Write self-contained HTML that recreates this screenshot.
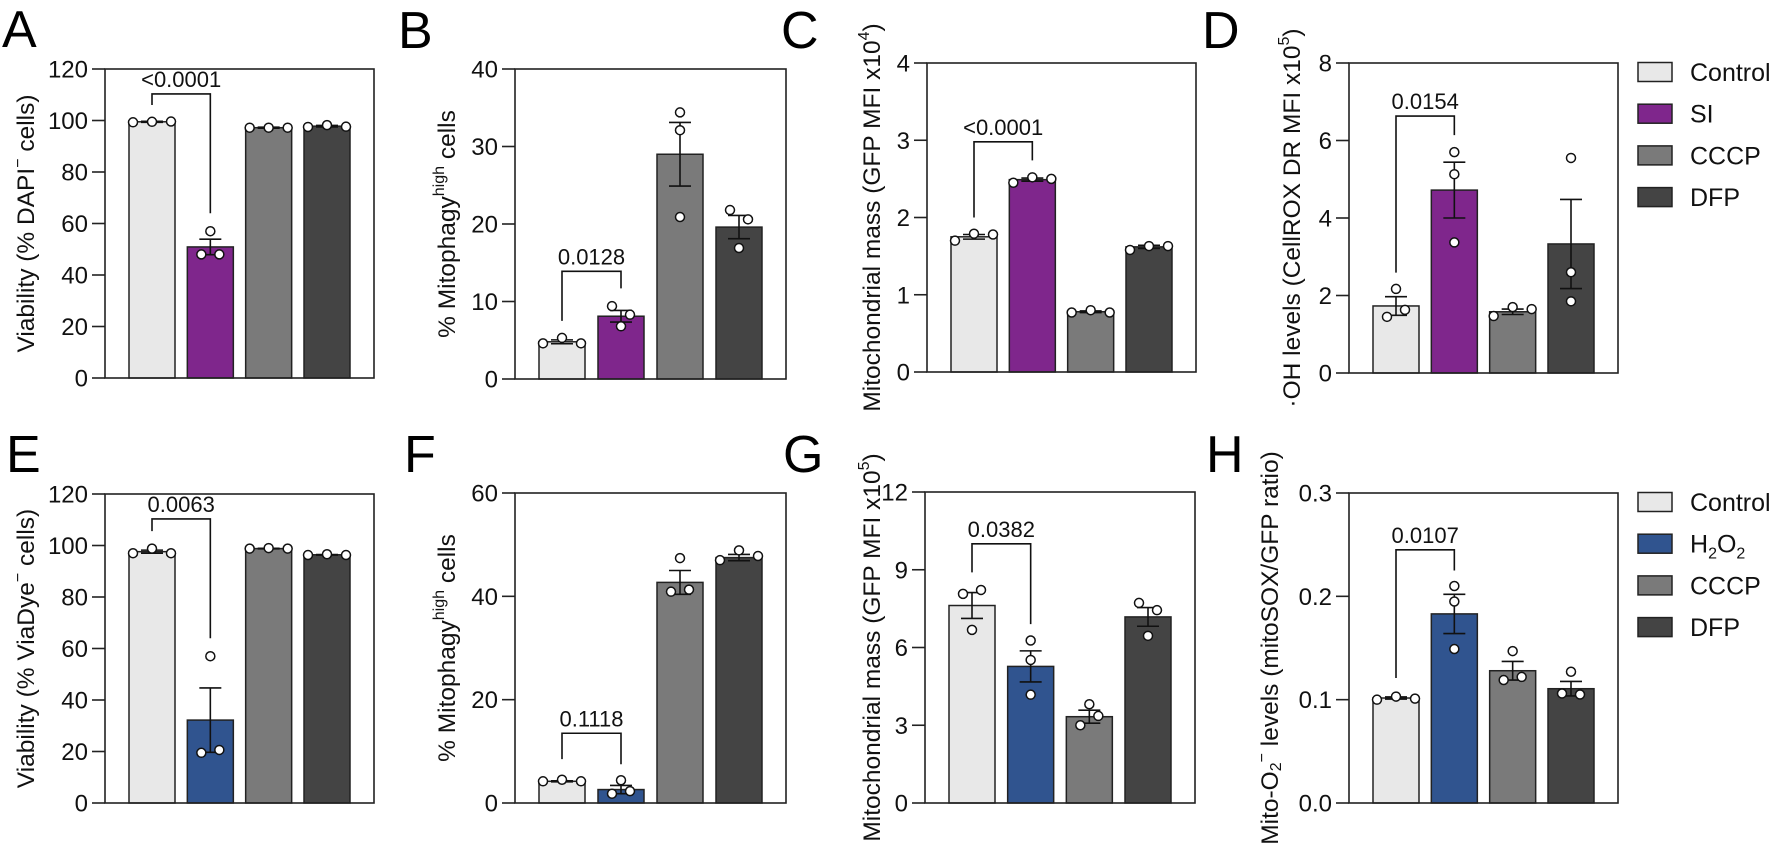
<!DOCTYPE html>
<html><head><meta charset="utf-8"><style>
html,body{margin:0;padding:0;background:#fff;}
svg{display:block;font-family:"Liberation Sans",Arial,sans-serif;}
</style></head><body>
<svg id="fig" width="1772" height="849" viewBox="0 0 1772 849" xmlns="http://www.w3.org/2000/svg"></svg>
<script>
const groups = ["Control","Treatment","CCCP","DFP"];
// Panel A
const aMeans = [99.5, 50.9, 97.2, 97.8];
const aSems = [0.2, 3.0, 0.2, 0.3];
const aPoints = [[99.3,99.5,99.6],[48,48,57],[97.2,97.2,97.2],[97.5,98.2,97.6]];
const aTicks = [0,20,40,60,80,100,120];
const aSig = [110.3, 106, 64];
// Panel B
const bMeans = [4.8, 8.1, 29.0, 19.6];
const bSems = [0.25, 0.75, 4.1, 1.5];
const bPoints = [[4.6,5.3,4.6],[9.4,6.8,8.3],[34.4,32.1,20.9],[21.8,16.9,20.6]];
const bTicks = [0,10,20,30,40];
const bSig = [13.9, 7.5, 11.7];
// Panel C
const cMeans = [1.75, 2.49, 0.78, 1.62];
const cSems = [0.03, 0.02, 0.01, 0.02];
const cPoints = [[1.70,1.79,1.78],[2.45,2.52,2.50],[0.77,0.80,0.77],[1.58,1.63,1.63]];
const cTicks = [0,1,2,3,4];
const cSig = [2.98, 2.0, 2.74];
// Panel D
const dMeans = [1.73, 4.72, 1.58, 3.33];
const dSems = [0.24, 0.72, 0.07, 1.15];
const dPoints = [[1.45,2.17,1.63],[3.37,5.7,5.13],[1.47,1.70,1.65],[1.85,5.55,2.6]];
const dTicks = [0,2,4,6,8];
const dSig = [6.63, 2.59, 6.14];
// Panel E
const eMeans = [97.6, 32.2, 98.8, 96.4];
const eSems = [0.6, 12.5, 0.1, 0.1];
const ePoints = [[97.0,98.8,97.0],[19.5,57,20.6],[98.8,99.0,98.8],[96.3,96.6,96.3]];
const eTicks = [0,20,40,60,80,100,120];
const eSig = [110.3, 105.6, 64];
// Panel F
const fMeans = [4.2, 2.6, 42.7, 47.5];
const fSems = [0.1, 0.8, 2.3, 0.6];
const fPoints = [[4.2,4.5,4.2],[1.8,4.4,2.3],[40.9,47.4,41.3],[47.0,48.9,47.8]];
const fTicks = [0,20,40,60];
const fSig = [13.5, 8.5, 7.5];
// Panel G
const gMeans = [7.62, 5.27, 3.33, 7.18];
const gSems = [0.5, 0.6, 0.25, 0.36];
const gPoints = [[8.07,6.68,8.22],[5.52,4.18,6.27],[3.0,3.81,3.36],[7.72,6.45,7.44]];
const gTicks = [0,3,6,9,12];
const gSig = [10.0, 8.9, 6.9];
// Panel H
const hMeans = [0.1016, 0.183, 0.128, 0.1106];
const hSems = [0.001, 0.019, 0.009, 0.007];
const hPoints = [[0.100,0.103,0.101],[0.210,0.195,0.149],[0.119,0.147,0.122],[0.106,0.127,0.105]];
const hTicks = ["0.0","0.1","0.2","0.3"];
const hSig = [0.245, 0.121, 0.225];

const NS = "http://www.w3.org/2000/svg";
const svg = document.getElementById("fig");
function mk(tag, attrs, parent){
  const e = document.createElementNS(NS, tag);
  for (const k in attrs) e.setAttribute(k, attrs[k]);
  (parent||svg).appendChild(e);
  return e;
}
const topColors = ["#e8e8e8","#7f268c","#7a7a7a","#444444"];
const botColors = ["#e8e8e8","#30548f","#7a7a7a","#444444"];

const panels = [
 {id:"a", L:"A", lx:2, ly:47, x0:105, x1:374, y0:69, y1:378, tx:26, means:aMeans, sems:aSems, pts:aPoints, ticks:aTicks, sig:aSig, sigLabel:"<0.0001", colors:topColors,
  title:[["Viability (% DAPI",0],["−",1],[" cells)",0]]},
 {id:"b", L:"B", lx:398, ly:48, x0:515, x1:786, y0:69, y1:379, tx:447, means:bMeans, sems:bSems, pts:bPoints, ticks:bTicks, sig:bSig, sigLabel:"0.0128", colors:topColors,
  title:[["% Mitophagy",0],["high",1],[" cells",0]]},
 {id:"c", L:"C", lx:781, ly:48, x0:927, x1:1196, y0:63, y1:372, tx:872, means:cMeans, sems:cSems, pts:cPoints, ticks:cTicks, sig:cSig, sigLabel:"<0.0001", colors:topColors,
  title:[["Mitochondrial mass (GFP MFI x10",0],["4",1],[")",0]]},
 {id:"d", L:"D", lx:1202, ly:48, x0:1349, x1:1618, y0:63, y1:373, tx:1292, means:dMeans, sems:dSems, pts:dPoints, ticks:dTicks, sig:dSig, sigLabel:"0.0154", colors:topColors,
  title:[["·OH levels (CellROX DR MFI x10",0],["5",1],[")",0]]},
 {id:"e", L:"E", lx:6, ly:472, x0:105, x1:374, y0:494, y1:803, tx:26, means:eMeans, sems:eSems, pts:ePoints, ticks:eTicks, sig:eSig, sigLabel:"0.0063", colors:botColors,
  title:[["Viability (% ViaDye",0],["−",1],[" cells)",0]]},
 {id:"f", L:"F", lx:404, ly:472, x0:515, x1:786, y0:493, y1:803, tx:447, means:fMeans, sems:fSems, pts:fPoints, ticks:fTicks, sig:fSig, sigLabel:"0.1118", colors:botColors,
  title:[["% Mitophagy",0],["high",1],[" cells",0]]},
 {id:"g", L:"G", lx:783, ly:472, x0:925, x1:1195, y0:492, y1:803, tx:872, means:gMeans, sems:gSems, pts:gPoints, ticks:gTicks, sig:gSig, sigLabel:"0.0382", colors:botColors,
  title:[["Mitochondrial mass (GFP MFI x10",0],["5",1],[")",0]]},
 {id:"h", L:"H", lx:1206, ly:472, x0:1349, x1:1618, y0:493, y1:803, tx:1270, means:hMeans, sems:hSems, pts:hPoints, ticks:hTicks, sig:hSig, sigLabel:"0.0107", colors:botColors,
  title:[["Mito-O",0],["2",2],["−",1],[" levels (mitoSOX/GFP ratio)",0]]}
];

// cluster points that overlap vertically and spread them horizontally
function spread(ys){
  const idx = ys.map((y,i)=>i).sort((a,b)=>ys[a]-ys[b]);
  const clusters = [];
  idx.forEach(i=>{
    const last = clusters[clusters.length-1];
    if(last && Math.abs(ys[i]-ys[last[last.length-1]])<10) last.push(i);
    else clusters.push([i]);
  });
  const off = new Array(ys.length).fill(0);
  clusters.forEach(c=>{
    const n = c.length, sp = n===2?18:19;
    const order = c.slice().sort((a,b)=>a-b);
    order.forEach((i,k)=>{ off[i] = (k-(n-1)/2)*sp; });
  });
  return off;
}

panels.forEach(p=>{
  const g = mk("g",{});
  
  
  const tv = p.ticks.map(Number);
  const vmax = tv[tv.length-1];
  const yS = v => p.y1 - (v/vmax)*(p.y1-p.y0);
  const W = p.x1-p.x0;
  const bw = 46, pad = 24, pitch = (W-2*pad-bw)/3;
  const xC = i => p.x0 + pad + bw/2 + i*pitch;

  const letter = mk("text",{x:p.lx,y:p.ly,"font-size":52,fill:"#000"},g);
  letter.textContent = p.L;
  
  

  p.means.forEach((m,i)=>{
    const r = mk("rect",{x:xC(i)-bw/2,y:yS(m),width:bw,height:yS(0)-yS(m),fill:p.colors[i],stroke:"#222","stroke-width":1.5},g);
    
    
  });
  p.means.forEach((m,i)=>{
    const s = p.sems[i], cx = xC(i);
    const eb = mk("path",{d:`M${cx} ${yS(m-s)}V${yS(m+s)}M${cx-11} ${yS(m+s)}H${cx+11}M${cx-11} ${yS(m-s)}H${cx+11}`,stroke:"#111","stroke-width":1.6,fill:"none"},g);
    
    
  });
  p.pts.forEach((arr,i)=>{
    const ys = arr.map(yS);
    const off = spread(ys);
    arr.forEach((v,j)=>{
      const c = mk("circle",{cx:xC(i)+off[j],cy:ys[j],r:4.5,fill:"#fff",stroke:"#111","stroke-width":1.5},g);
      
      
    });
  });
  const fr = mk("rect",{x:p.x0,y:p.y0,width:W,height:p.y1-p.y0,fill:"none",stroke:"#222","stroke-width":1.6},g);
  
  
  p.ticks.forEach((t,k)=>{
    const y = yS(Number(t));
    const tl = mk("line",{x1:p.x0-13,x2:p.x0,y1:y,y2:y,stroke:"#222","stroke-width":1.6},g);
    
    
    const tt = mk("text",{x:p.x0-17,y:y+8.5,"font-size":24,"text-anchor":"end",fill:"#111"},g);
    tt.textContent = String(t);
    
    
  });
  const cy = (p.y0+p.y1)/2;
  const ti = mk("text",{x:0,y:0,"font-size":24.5,"text-anchor":"middle","dominant-baseline":"central",fill:"#111",transform:`translate(${p.tx},${cy}) rotate(-90)`},g);
  
  
  p.title.forEach(([s,t])=>{
    const ts = mk("tspan",{},ti);
    if(t===1){ts.setAttribute("font-size","16");ts.setAttribute("dy","-8");}
    if(t===2){ts.setAttribute("font-size","16");ts.setAttribute("dy","6");}
    if(t===0 && ti.childNodes.length>1){
      const prev = p.title[ti.childNodes.length-2][1];
      if(prev===1) ts.setAttribute("dy","8");
      if(prev===2) ts.setAttribute("dy","-6");
    }
    if(t===1 && ti.childNodes.length>1 && p.title[ti.childNodes.length-2][1]===2){ts.setAttribute("dy","-14");}
    ts.textContent = s;
  });
  const [bv, lv, rv] = p.sig;
  const xl = xC(0), xr = xC(1);
  const br = mk("path",{d:`M${xl} ${yS(lv)}V${yS(bv)}H${xr}V${yS(rv)}`,stroke:"#111","stroke-width":1.6,fill:"none"},g);
  
  
  const sl = mk("text",{x:(xl+xr)/2,y:yS(bv)-7,"font-size":22,"text-anchor":"middle",fill:"#111"},g);
  sl.textContent = p.sigLabel;
  
  
});

const legTop = ["Control","SI","CCCP","DFP"];
const legBot = ["Control","H2O2","CCCP","DFP"];
function legend(labels, colors, y0, name){
  const g = mk("g",{});
  
  
  labels.forEach((lab,i)=>{
    const cy = y0 + i*41.7;
    const r = mk("rect",{x:1638,y:cy-9.5,width:34,height:19,fill:colors[i],stroke:"#222","stroke-width":1.5},g);
    
    
    const t = mk("text",{x:1690,y:cy+9,"font-size":25,fill:"#111"},g);
    
    
    if(lab==="H2O2"){
      t.appendChild(document.createTextNode("H"));
      const s1 = mk("tspan",{"font-size":16,dy:6},t); s1.textContent="2";
      const s2 = mk("tspan",{dy:-6},t); s2.textContent="O";
      const s3 = mk("tspan",{"font-size":16,dy:6},t); s3.textContent="2";
    } else t.textContent = lab;
  });
}
legend(legTop, topColors, 72, "legend-top");
legend(legBot, botColors, 502, "legend-bottom");
</script>
</body></html>
